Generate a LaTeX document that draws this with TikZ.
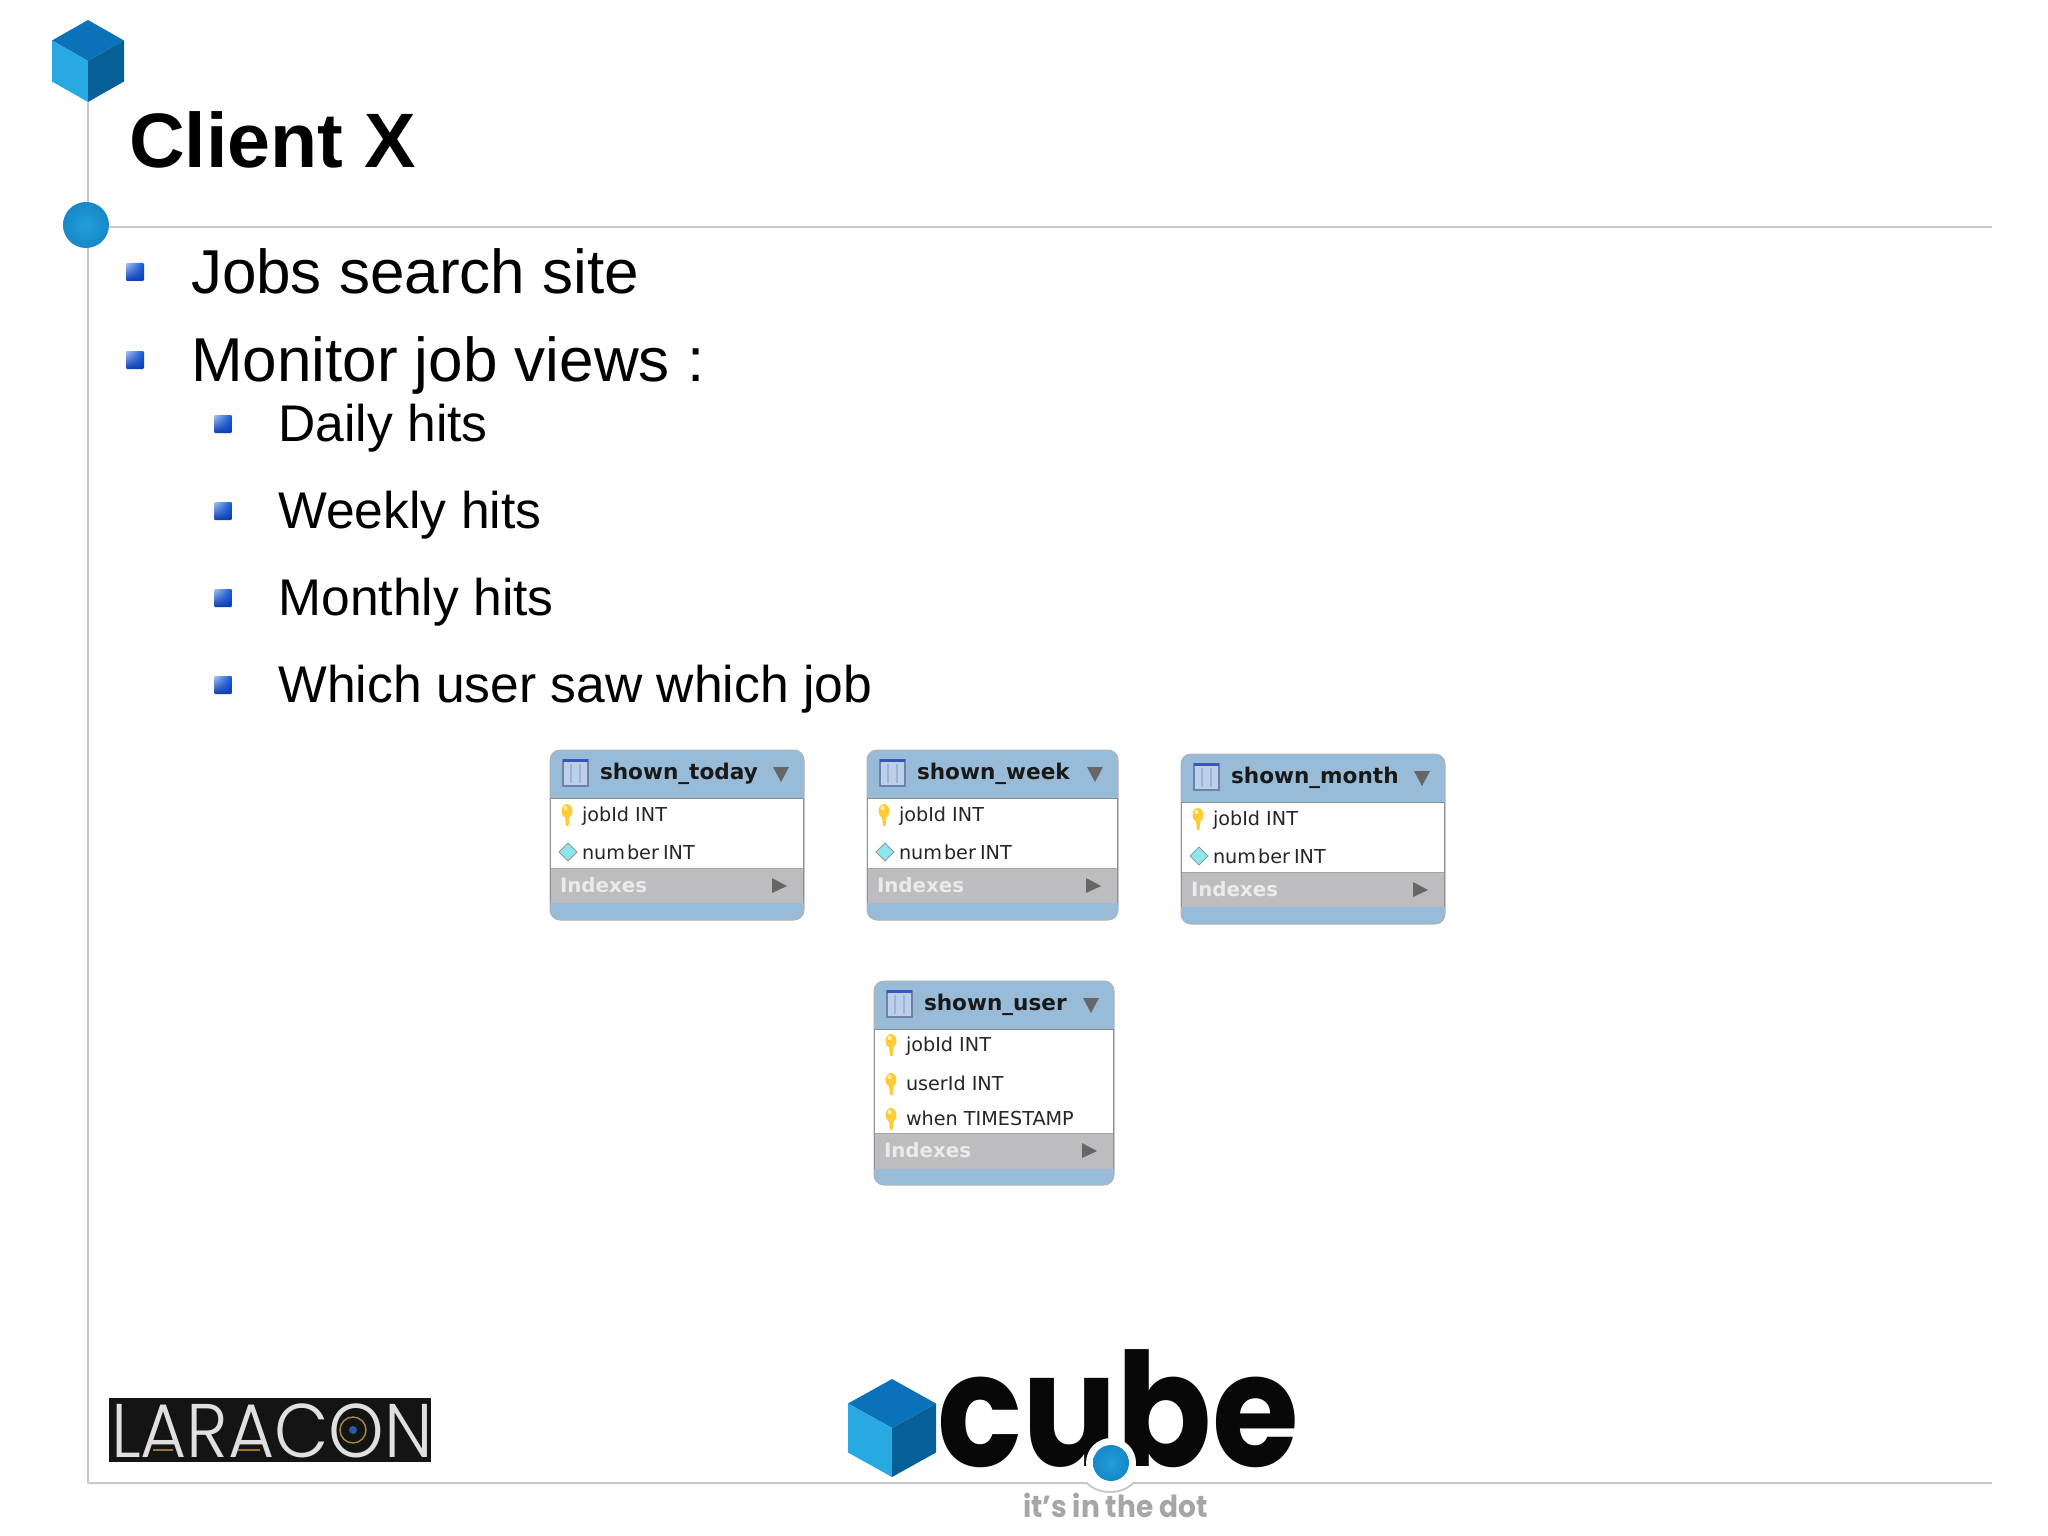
\documentclass[tikz,border=0pt]{standalone}
\usepackage{fontspec}
\usetikzlibrary{shadings}
\setmainfont{Liberation Sans}
\newfontfamily\dbfont{DejaVu Sans}
\newfontfamily\popfont{Poppins}
\newfontfamily\poplight{Poppins Light}
\definecolor{rule}{HTML}{C8C9CC}
\definecolor{cubetop}{HTML}{0B72B9}
\definecolor{cubeleft}{HTML}{29A9E1}
\definecolor{cuberight}{HTML}{075F97}
\definecolor{dbblue}{HTML}{98BCD8}
\definecolor{dbgrey}{HTML}{BDBDBF}
\definecolor{dbedge}{HTML}{8C9298}
\definecolor{bulletblue}{HTML}{0F55D8}
\definecolor{bulletdark}{HTML}{0A3CB4}
\definecolor{bulletlight}{HTML}{A8C8F4}
\definecolor{keygold}{HTML}{FFCC33}
\definecolor{iconfill}{HTML}{BCD0EA}
\definecolor{iconbar}{HTML}{3A55BE}
\definecolor{iconedge}{HTML}{6E82A8}
\definecolor{iconline}{HTML}{9DB4D8}
\definecolor{diamfill}{HTML}{8FE6EA}
\definecolor{ringgold}{HTML}{A8893A}
\definecolor{barline}{HTML}{A5702A}
\definecolor{lensblue}{HTML}{2A5AA8}
\tikzset{
  x=0.5pt,y=-0.5pt,
  lbl/.style={anchor=base west,inner sep=0pt,outer sep=0pt},
  rulestyle/.style={draw=rule,line width=1pt},
  lvlone/.style={lbl,font=\fontsize{31}{31}\selectfont,text=black},
  lvltwo/.style={lbl,font=\fontsize{25.8}{26}\selectfont,text=black},
  dbtitle/.style={lbl,font=\dbfont\bfseries\fontsize{10.8}{11}\selectfont,text=black!90},
  dbrowtext/.style={lbl,font=\dbfont\fontsize{9.6}{10}\selectfont,text=black!85},
  dbidx/.style={lbl,font=\dbfont\bfseries\fontsize{9.9}{10}\selectfont,text=white!92!black},
}
\newcommand{\cubeglyph}[4]{%
  \begin{scope}[shift={(#1,#2)}]
    \fill[cubetop] (0,-#4) -- (#3,-#4/2) -- (0,0) -- (-#3,-#4/2) -- cycle;
    \fill[cubeleft] (-#3,-#4/2) -- (0,0) -- (0,#4) -- (-#3,#4/2) -- cycle;
    \fill[cuberight] (#3,-#4/2) -- (0,0) -- (0,#4) -- (#3,#4/2) -- cycle;
  \end{scope}}
\newcommand{\bulletmark}[2]{%
  \shade[lower left=bulletdark,upper right=bulletblue,upper left=bulletlight,lower right=bulletdark,rounded corners=0.6pt]
    (#1-9,#2-9) rectangle (#1+9,#2+9);}
\newcommand{\dbbox}[8]{%
  \begin{scope}[shift={(#2,#3)}]
    \fill[dbblue,draw=dbedge!70,line width=0.5pt,rounded corners=5pt] (0,0) rectangle (#4,#7);
    \fill[white] (1,48) rectangle (#4-1,#5);
    \fill[dbgrey] (1,#5) rectangle (#4-1,#6);
    \draw[dbedge,line width=0.6pt] (0.5,48) -- (0.5,#6) (#4-0.5,48) -- (#4-0.5,#6);
    \draw[black!45,line width=0.5pt] (1,48) -- (#4-1,48);
    \draw[black!35,line width=0.5pt] (1,#5) -- (#4-1,#5);
    \fill[iconfill,draw=iconedge,line width=0.6pt] (13,10) rectangle (38,36);
    \fill[iconbar] (13,9) rectangle (38,12);
    \draw[iconline,line width=0.6pt] (21,14) -- (21,33) (30,14) -- (30,33);
    \node[dbtitle] (#1-title) at (50,29) {#8};
    \fill[black!60] (#4-31,17) -- (#4-15,17) -- (#4-23,32) -- cycle;
    \node[dbidx] (#1-idx) at (10,#5+24) {Indexes};
    \fill[black!60] (#4-32,#5+10) -- (#4-17,#5+18) -- (#4-32,#5+25) -- cycle;
  \end{scope}}
\newcommand{\keyrow}[5]{%
  \begin{scope}[shift={(#2,#3)}]
    \fill[keygold] (17,#4-10) ellipse (5.5 and 7);
    \fill[keygold] (14.5,#4-8) -- (20,#4-8) -- (18.5,#4+5) -- (16,#4+5) -- cycle;
    \fill[white!70!keygold] (15.5,#4-13) circle (2);
    \node[dbrowtext] (#1) at (32,#4) {#5};
  \end{scope}}
\newcommand{\diamrow}[5]{%
  \begin{scope}[shift={(#2,#3)}]
    \fill[diamfill,draw=black!40,line width=0.5pt] (9,#4-7) -- (18,#4-16) -- (27,#4-7) -- (18,#4+2) -- cycle;
    \node[dbrowtext] (#1) at (32,#4) {#5};
  \end{scope}}
\begin{document}
\begin{tikzpicture}
\useasboundingbox (0,0) rectangle (2048,1535);
\fill[white] (0,0) rectangle (2048,1535);
\coordinate (vtop) at (87.5,102);
\coordinate (vbot) at (87.5,1483);
\coordinate (hr) at (1992,227);
\coordinate (hl) at (109,227);
\draw[rulestyle] (vtop) -- (vbot);
\draw[rulestyle] (hl) -- (hr);
\cubeglyph{88}{61}{36}{41}
\shade[inner color=cubeleft!80!cubetop,outer color=cubetop!60!cubeleft] (86,225) circle (23);
\node[lbl,font=\bfseries\fontsize{38.6}{39}\selectfont] (title) at (129,168) {Client X};
\bulletmark{135}{272}\node[lvlone] (b1) at (191,294) {Jobs search site};
\bulletmark{135}{360}\node[lvlone] (b2) at (191,381.5) {Monitor job views :};
\bulletmark{223}{424}\node[lvltwo] (c1) at (278.5,441) {Daily hits};
\bulletmark{223}{511}\node[lvltwo] (c2) at (278.5,528) {Weekly hits};
\bulletmark{223}{598}\node[lvltwo] (c3) at (278.5,615) {Monthly hits};
\bulletmark{223}{685}\node[lvltwo] (c4) at (278.5,702) {Which user saw which job};
\dbbox{today}{550}{750}{254}{118}{153}{170}{shown\_today}
\keyrow{today-a}{550}{750}{71}{jobId INT}
\diamrow{today-b}{550}{750}{109}{num\kern1pt ber\kern-1pt\ INT}
\dbbox{week}{867}{750}{251}{118}{153}{170}{shown\_week}
\keyrow{week-a}{867}{750}{71}{jobId INT}
\diamrow{week-b}{867}{750}{109}{num\kern1pt ber\kern-1pt\ INT}
\dbbox{month}{1181}{754}{264}{118}{153}{170}{shown\_month}
\keyrow{month-a}{1181}{754}{71}{jobId INT}
\diamrow{month-b}{1181}{754}{109}{num\kern1pt ber\kern-1pt\ INT}
\dbbox{user}{874}{981}{240}{152}{188}{204}{shown\_user}
\keyrow{user-a}{874}{981}{70}{jobId INT}
\keyrow{user-b}{874}{981}{109}{userId INT}
\keyrow{user-c}{874}{981}{144}{when TIMESTAMP}
\fill[black!92] (109,1398) rectangle (431,1462);
\node[lbl,font=\poplight\fontsize{38}{38}\selectfont,text=white!88!black] (lara) at (111,1457) {\scalebox{.93}[1]{LARACON}};
\draw[ringgold,line width=0.7pt] (353,1430) circle (13);
\fill[lensblue] (353,1430) circle (4);
\draw[barline,line width=1pt] (153,1450) -- (173,1450) (238,1450) -- (260,1450);
\cubeglyph{892}{1428}{44}{49}
\node[lbl,font=\popfont\bfseries\fontsize{79}{79}\selectfont,text=black!97] (cube) at (937,1466) {\scalebox{.89}[1]{cube}};
\fill[white] (1111,1463) circle (25);
\shade[inner color=cubeleft!80!cubetop,outer color=cubetop!60!cubeleft] (1111,1463) circle (18);
\node[lbl,font=\popfont\bfseries\fontsize{15.2}{16}\selectfont,text=black!35] (tag) at (1023,1517) {\scalebox{.92}[1]{it’s in the dot}};
\coordinate (bl) at (87.5,1483);
\coordinate (br) at (1992,1483);
\coordinate (d1) at (1087,1483);
\coordinate (d2) at (1133,1483);
\draw[rulestyle] (bl) -- (d1) .. controls (1098,1495) and (1122,1495) .. (d2) -- (br);
\end{tikzpicture}
\end{document}
